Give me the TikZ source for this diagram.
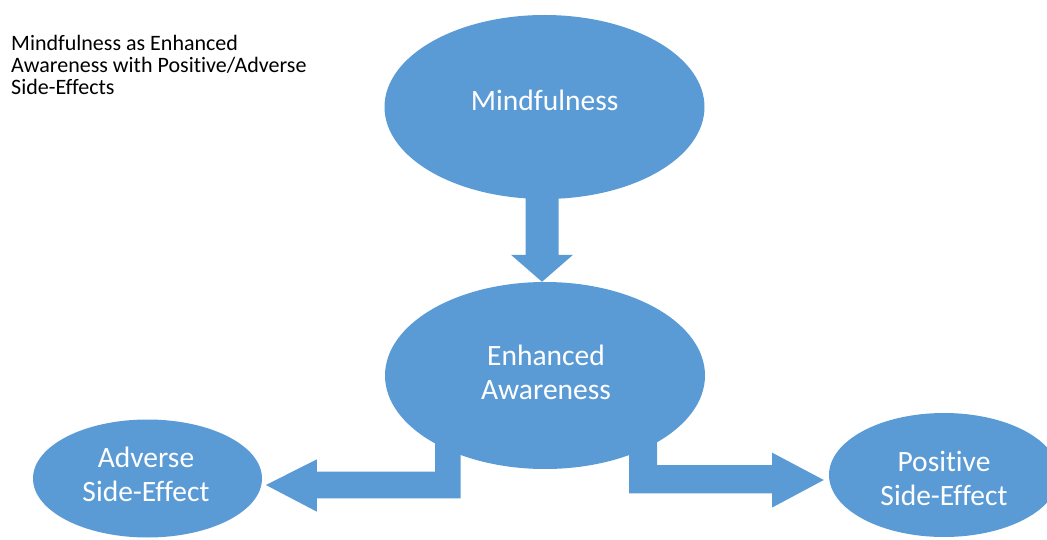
\documentclass[tikz,border=0pt]{standalone}
\usepackage{fontspec}
\setmainfont{Carlito}[Ligatures=NoCommon]
\usetikzlibrary{shapes.geometric,calc}
\definecolor{officeblue}{HTML}{5B9BD5}
\begin{document}
\begin{tikzpicture}[x=1pt,y=-1pt,
  bubble/.style={ellipse, fill=officeblue, draw=none, inner sep=0pt},
  bubbletext/.style={text=white, anchor=base, align=center, inner sep=0pt,
    font=\fontsize{29.5}{34}\selectfont},
  blockarrow/.style={fill=officeblue, draw=none}]
  \useasboundingbox (0,0) rectangle (1047,540);
  \clip (0,0) rectangle (1047,540);

  % heading (base anchor sits on the last line)
  \node[anchor=base west, align=left, inner sep=0pt,
    font=\fontsize{22}{21.7}\selectfont] (title) at (11,94.1)
    {Mindfulness as Enhanced\\Awareness with Positive/Adverse\\Side-Effects};

  % ellipses
  \node[bubble, minimum width=320, minimum height=184] (mind)  at (544.5,107) {};
  \node[bubble, minimum width=320, minimum height=187] (aware) at (545,375.5) {};
  \node[bubble, minimum width=229, minimum height=118] (adv)   at (147.5,478.5) {};
  \node[bubble, minimum width=230, minimum height=124] (pos)   at (944,475) {};

  % block arrows
  \fill[blockarrow] ([xshift=-3]aware.north) -- ++(31,-27) -- ++(-14.5,0)
    -- ++(0,-70) -- ++(-33,0) -- ++(0,70) -- ++(-14.5,0) -- cycle;
  \fill[blockarrow] ([xshift=3.7,yshift=-6.5]adv.east) -- ++(51,-25.7)
    -- ++(0,12.4) -- ++(118.3,0) -- ++(0,-31.7) -- ++(25.5,0)
    -- ++(0,58.3) -- ++(-143.8,0) -- ++(0,13.4) -- cycle;
  \fill[blockarrow] ([xshift=-5,yshift=-5]pos.west) -- ++(-51.6,-27.3)
    -- ++(0,12.3) -- ++(-115.1,0) -- ++(0,-25) -- ++(-28,0)
    -- ++(0,53.3) -- ++(143.1,0) -- ++(0,14.2) -- cycle;

  % ellipse labels (base anchor on the last line)
  \node[bubbletext] (mindlabel)  at (544.7,110.5) {Mindfulness};
  \node[bubbletext] (awarelabel) at (546,399) {Enhanced\\Awareness};
  \node[bubbletext] (advlabel)   at (146,501) {Adverse\\Side-Effect};
  \node[bubbletext] (poslabel)   at (944,505) {Positive\\Side-Effect};
\end{tikzpicture}
\end{document}
